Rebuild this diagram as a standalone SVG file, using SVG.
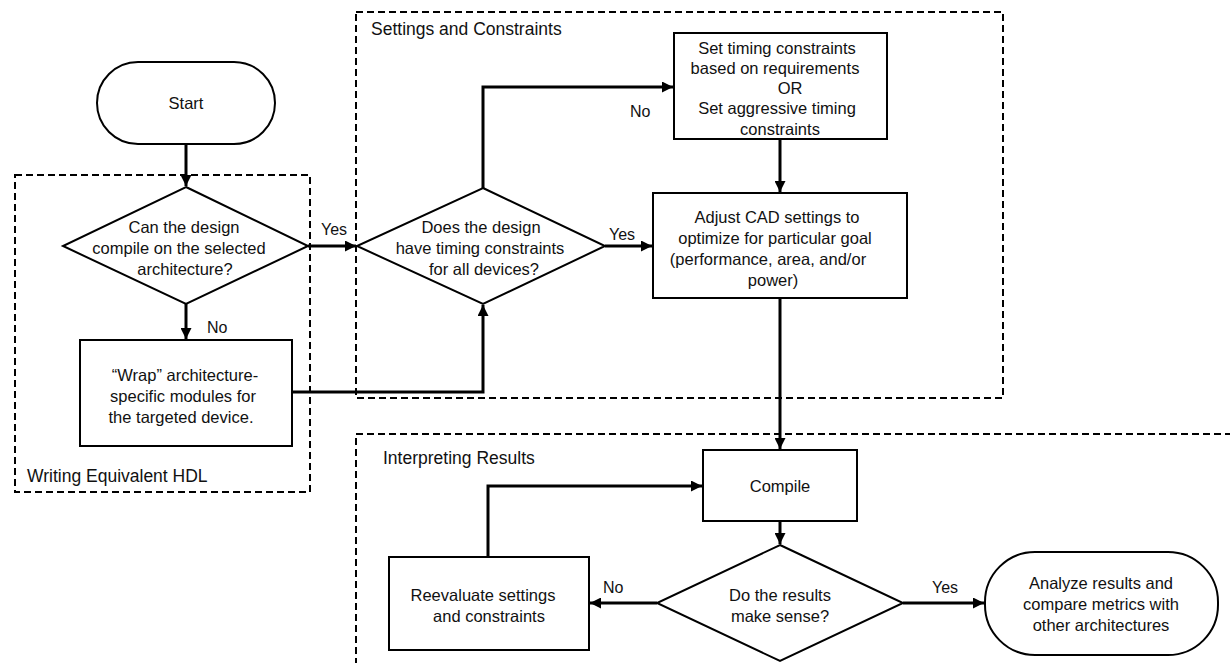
<svg xmlns="http://www.w3.org/2000/svg" width="1230" height="663" viewBox="0 0 1230 663">
  <style>
    .node { fill: #fff; stroke: #000; stroke-width: 2; }
    .group { fill: none; stroke: #000; stroke-width: 2; stroke-dasharray: 7 4; }
    .edge { fill: none; stroke: #000; stroke-width: 3; }
    text { font-family: "Liberation Sans", Arial, sans-serif; font-size: 16.5px; fill: #111; }
    .c { text-anchor: middle; }
    .label { font-size: 17.5px; }
    .tag { font-size: 16px; }
  </style>
  <defs>
    <marker id="arrow" viewBox="0 0 10 10" refX="10" refY="5" markerWidth="11" markerHeight="11" markerUnits="userSpaceOnUse" orient="auto">
      <path d="M0,0 L10,5 L0,10 Z" fill="#000"/>
    </marker>
  </defs>

  <rect width="1230" height="663" fill="#fff"/>

  <!-- dashed grouping regions -->
  <g id="groups">
    <rect class="group" x="15" y="175" width="295" height="317"/>
    <text class="label" x="27" y="482">Writing Equivalent HDL</text>
    <rect class="group" x="356" y="12" width="647" height="386"/>
    <text class="label" x="371" y="35">Settings and Constraints</text>
    <path class="group" d="M1232,434 H356 V665"/>
    <text class="label" x="383" y="464">Interpreting Results</text>
  </g>

  <!-- connectors -->
  <g id="connectors">
    <path class="edge" d="M186,144 V186" marker-end="url(#arrow)"/>
    <path class="edge" d="M308,246 H356" marker-end="url(#arrow)"/>
    <path class="edge" d="M186,304 V339" marker-end="url(#arrow)"/>
    <path class="edge" d="M292,392 H483 V305" marker-end="url(#arrow)"/>
    <path class="edge" d="M483,188 V87 H673" marker-end="url(#arrow)"/>
    <path class="edge" d="M605,246 H652" marker-end="url(#arrow)"/>
    <path class="edge" d="M780,139 V192" marker-end="url(#arrow)"/>
    <path class="edge" d="M780,298 V449" marker-end="url(#arrow)"/>
    <path class="edge" d="M780,521 V544" marker-end="url(#arrow)"/>
    <path class="edge" d="M657,603 H590" marker-end="url(#arrow)"/>
    <path class="edge" d="M488,557 V486 H702" marker-end="url(#arrow)"/>
    <path class="edge" d="M903,603 H984" marker-end="url(#arrow)"/>
    <text class="tag" x="321" y="235">Yes</text>
    <text class="tag" x="207" y="333">No</text>
    <text class="tag" x="630" y="117">No</text>
    <text class="tag" x="609" y="240">Yes</text>
    <text class="tag" x="603" y="593">No</text>
    <text class="tag" x="932" y="593">Yes</text>
  </g>

  <g id="start">
    <rect class="node" x="97" y="62" width="178" height="82" rx="41" ry="41"/>
    <text class="c" x="186" y="109">Start</text>
  </g>

  <g id="can-compile">
    <polygon class="node" points="186,187 308,246 186,304 63,246"/>
    <text class="c" x="184" y="233">Can the design</text>
    <text class="c" x="179" y="254">compile on the selected</text>
    <text class="c" x="185" y="275">architecture?</text>
  </g>

  <g id="wrap">
    <rect class="node" x="80" y="340" width="212" height="106"/>
    <text class="c" x="185" y="381">“Wrap” architecture-</text>
    <text class="c" x="183" y="402">specific modules for</text>
    <text class="c" x="181" y="423">the targeted device.</text>
  </g>

  <g id="has-constraints">
    <polygon class="node" points="483,188 605,246 483,304 357,246"/>
    <text class="c" x="481" y="233">Does the design</text>
    <text class="c" x="480" y="254">have timing constraints</text>
    <text class="c" x="484" y="275">for all devices?</text>
  </g>

  <g id="set-constraints">
    <rect class="node" x="674" y="33" width="213" height="106"/>
    <text class="c" x="777" y="54">Set timing constraints</text>
    <text class="c" x="775" y="74">based on requirements</text>
    <text class="c" x="790" y="94">OR</text>
    <text class="c" x="777" y="114">Set aggressive timing</text>
    <text class="c" x="780" y="135">constraints</text>
  </g>

  <g id="adjust-cad">
    <rect class="node" x="653" y="193" width="254" height="105"/>
    <text class="c" x="777" y="223">Adjust CAD settings to</text>
    <text class="c" x="775" y="244">optimize for particular goal</text>
    <text class="c" x="768" y="265">(performance, area, and/or</text>
    <text class="c" x="773" y="286">power)</text>
  </g>

  <g id="compile">
    <rect class="node" x="703" y="450" width="154" height="71"/>
    <text class="c" x="780" y="492">Compile</text>
  </g>

  <g id="make-sense">
    <polygon class="node" points="780,545 903,603 780,661 657,603"/>
    <text class="c" x="780" y="601">Do the results</text>
    <text class="c" x="780" y="622">make sense?</text>
  </g>

  <g id="reevaluate">
    <rect class="node" x="389" y="557" width="200" height="93"/>
    <text class="c" x="483" y="601">Reevaluate settings</text>
    <text class="c" x="489" y="622">and constraints</text>
  </g>

  <g id="analyze">
    <rect class="node" x="985" y="552" width="233" height="103" rx="50" ry="50"/>
    <text class="c" x="1101" y="589">Analyze results and</text>
    <text class="c" x="1101" y="610">compare metrics with</text>
    <text class="c" x="1101" y="631">other architectures</text>
  </g>
</svg>
